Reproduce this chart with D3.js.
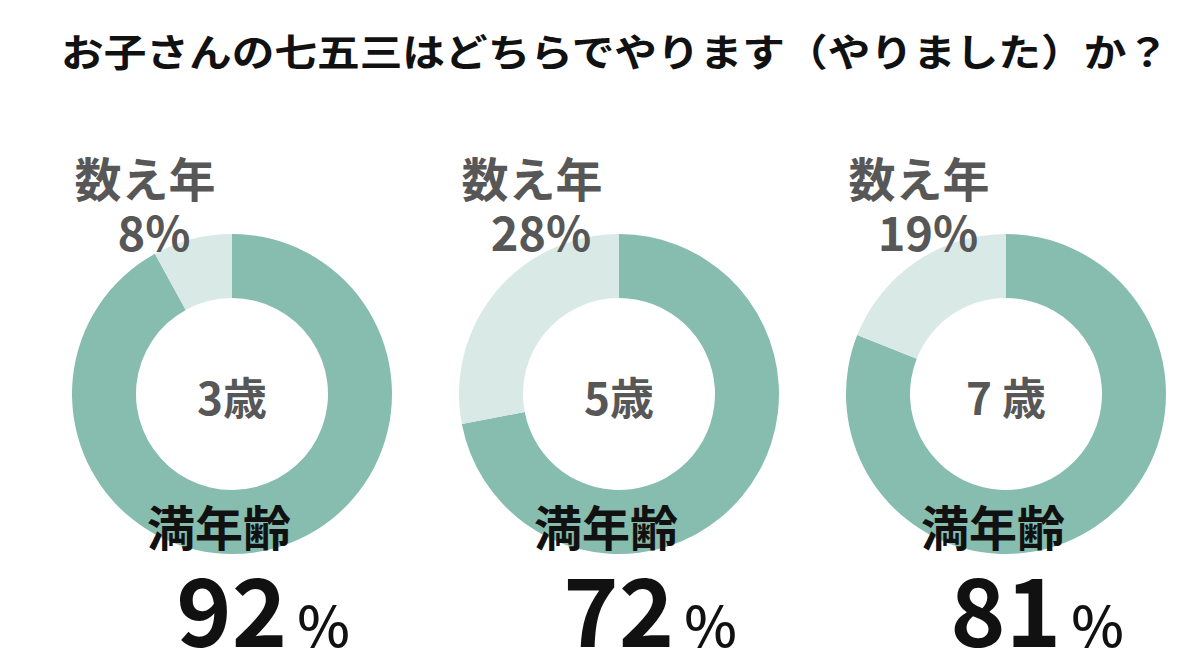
<!DOCTYPE html>
<html>
<head>
    <meta charset="utf-8">
    <style>
        body { margin: 0; background: #fff; }
        svg text { font-family: "Noto Sans CJK JP", "Noto Sans", sans-serif; font-weight: 700; }
        .title { fill: #111; font-size: 38px; }
        .kazoe { fill: #575757; font-size: 47px; }
        .center { fill: #575757; font-size: 44px; }
        .mannen { fill: #111; font-size: 48px; }
        .big { fill: #111; font-size: 94px; }
        .pct { fill: #111; font-size: 56px; font-weight: 500; }
    </style>
    <script type="text/javascript" src="https://d3js.org/d3.v7.min.js"></script>
</head>
<body>
<svg width="1202" height="666"></svg>
<script>
    // data
    let ages = ["3歳", "5歳", "7 歳"];
    let fullAge = [92, 72, 81];      // 満年齢 %
    let kazoeAge = [8, 28, 19];      // 数え年 %
    let sliceNames = ["満年齢", "数え年"];
    let title = "お子さんの七五三はどちらでやります（やりました）か？";

    let svg = d3.select("svg");

    let x = d3.scalePoint().domain(ages).range([232, 1006]);
    let cy = 394,
        outer = 160,
        inner = 96;

    let color = d3.scaleOrdinal().domain(sliceNames).range(["#86bdaf", "#d9eae6"]);

    let pie = d3.pie().sort(null).value(function(d) { return d.v; });
    let arc = d3.arc().outerRadius(outer).innerRadius(inner);

    svg.append("text")
        .attr("class", "title")
        .attr("x", 615)
        .attr("y", 66)
        .attr("text-anchor", "middle")
        .attr("textLength", 1108)
        .attr("lengthAdjust", "spacingAndGlyphs")
        .text(title);

    ages.forEach(function(age, i) {
        let cx = x(age);
        let g = svg.append("g").attr("transform", "translate(" + cx + "," + cy + ")");

        let slices = [
            {name: sliceNames[0], v: fullAge[i]},
            {name: sliceNames[1], v: kazoeAge[i]}
        ];

        g.selectAll("path")
            .data(pie(slices))
            .enter()
            .append("path")
            .attr("d", arc)
            .attr("fill", function(d) { return color(d.data.name); });

        g.append("text")
            .attr("class", "center")
            .attr("text-anchor", "middle")
            .attr("x", 0)
            .attr("y", 21)
            .text(age);

        // 数え年 label, top left
        g.append("text")
            .attr("class", "kazoe")
            .attr("text-anchor", "middle")
            .attr("x", -87)
            .attr("y", -197)
            .text(sliceNames[1]);
        g.append("text")
            .attr("class", "kazoe")
            .attr("text-anchor", "middle")
            .attr("x", -78)
            .attr("y", -143)
            .text(kazoeAge[i] + "%");

        // 満年齢 label, bottom
        g.append("text")
            .attr("class", "mannen")
            .attr("text-anchor", "middle")
            .attr("x", -13)
            .attr("y", 152)
            .text(sliceNames[0]);

        let big = g.append("text")
            .attr("text-anchor", "middle")
            .attr("x", 31)
            .attr("y", 253);
        big.append("tspan").attr("class", "big").text(fullAge[i]);
        big.append("tspan").attr("class", "pct").attr("dx", 10).text("%");
    });
</script>
</body>
</html>
